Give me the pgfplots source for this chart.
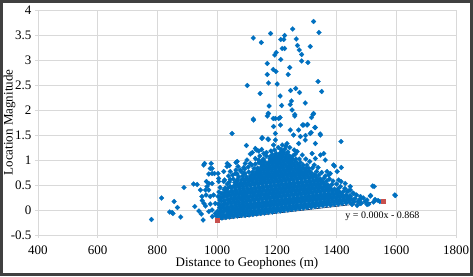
\documentclass[border=0pt]{standalone}
\usepackage{pgfplots}
\pgfplotsset{compat=1.18}
\usepackage{fontspec}
\setmainfont{Liberation Serif}
\definecolor{ptblue}{RGB}{0,112,192}
\definecolor{ptred}{RGB}{200,80,77}
\definecolor{trendc}{RGB}{31,56,100}
\definecolor{gridc}{RGB}{217,217,217}
\definecolor{framec}{RGB}{64,64,64}
\pgfplotsset{ptstyle/.style={only marks, mark=diamond*, mark size=2.5pt, mark options={xscale=1.3, fill=ptblue, draw=ptblue, line width=0.2pt}}}
\begin{document}
\begin{tikzpicture}
\useasboundingbox (0,0) rectangle (473pt,276pt);
\begin{axis}[
  at={(38pt,41pt)}, anchor=south west,
  scale only axis, width=418pt, height=225pt,
  xmin=400, xmax=1800, ymin=-0.5, ymax=4,
  xtick={400,600,...,1800},
  ytick={-0.5,0,0.5,1,1.5,2,2.5,3,3.5,4},
  grid=major,
  major grid style={draw=gridc, line width=0.8pt},
  axis line style={draw=gridc, line width=0.8pt},
  tick style={draw=gridc, line width=0.8pt},
  tick align=outside, major tick length=3pt,
  xtick pos=bottom, ytick pos=left,
  /pgf/number format/assume math mode=true,
  /pgf/number format/1000 sep={},
  tick label style={font=\fontsize{13}{15}\selectfont, text=black},
  xticklabel style={yshift=-4pt},
  label style={font=\fontsize{13}{15}\selectfont},
  xlabel={Distance to Geophones (m)},
  ylabel={Location Magnitude},
  xlabel style={at={(axis description cs:0.5,0)}, anchor=base, yshift=-31.7pt},
  ylabel style={at={(axis description cs:-0.0682,0.5)}, anchor=center},
  clip=false,
]
\addplot[ptstyle] coordinates {
(780,-0.19)(814,0.24)(856,0.17)(841,-0.04)(849,-0.05)(852,-0.07)(867,0.05)(878,-0.14)(889,0.45)(921,0.52)(933,0.51)(925,0.07)(939,-0.02)(947,-0.08)(950,0.19)(956,0.13)(953,-0.2)(955,0.9)(958,0.93)(980,0.93)(977,0.83)(983,0.83)(972,0.72)(991,0.73)(964,0.57)(972,0.53)(983,0.53)(966,0.47)(944,0.4)(961,0.4)(972,0.4)(949,0.27)(963,0.3)(977,0.27)(988,0.3)(961,0.08)(977,0.12)(994,0.13)(972,-0.03)(983,0.0)(994,-0.07)(984,-0.13)(997,-0.12)
(1034,0.93)(1041,0.89)(1050,1.53)(1098,1.29)(1063,0.95)(1070,0.87)(1089,0.85)(1131,1.2)(1139,1.18)(1149,1.21)(1165,1.15)(1111,1.12)(1118,1.15)(1151,1.45)(1170,1.42)(1189,1.3)(1195,1.53)(1100,1.0)(1111,0.93)(1128,1.03)(1150,0.97)(1022,0.77)(1044,0.77)(1067,0.72)(1089,0.73)(1003,0.73)(1005,0.63)(983,0.73)(1005,0.57)(1022,0.57)(1044,0.61)(1067,0.6)
(1172,1.93)(1206,1.83)(1251,2.0)(1122,1.8)(1189,1.67)(1212,1.7)(1245,1.6)(1256,1.5)(1150,1.43)(1128,1.23)(1172,1.41)(1195,1.4)(1234,1.33)(1273,1.33)(1268,1.17)(1067,0.97)(1094,0.93)(1033,0.87)(1061,0.73)(1078,0.8)(1156,1.13)(1178,1.07)(1139,1.0)
(1597,0.29)(1521,0.48)(1526,0.47)(1513,0.28)(1529,0.21)(1545,0.17)(1496,0.17)(1508,0.12)(1480,0.13)(1469,0.09)(1452,0.11)(1393,0.88)(1416,0.85)(1374,0.7)(1446,0.47)(1429,0.53)(1415,0.57)(1435,0.37)(1457,0.33)(1480,0.27)(1422,0.27)(1441,0.23)(1318,1.13)(1329,1.03)(1346,1.1)
(1321,1.91)(1316,1.85)(1415,1.37)(1290,1.7)(1301,1.7)(1327,1.65)(1273,1.6)(1312,1.53)(1346,1.5)(1279,1.47)(1295,1.4)(1329,1.33)(1357,1.13)(1362,1.0)(1390,0.9)(1368,0.77)(1379,0.73)(1402,0.77)(1407,0.6)(1446,0.4)(1446,0.27)(1480,0.23)(1502,0.2)(1595,0.3)(1514,0.29)(1524,0.16)(1539,0.19)(1502,0.11)(1483,0.14)
(1323,3.77)(1253,3.62)(1341,3.55)(1121,3.44)(1179,3.53)(1148,3.35)(1226,3.49)(1223,3.41)(1213,3.41)(1265,3.42)(1269,3.29)(1275,3.2)(1283,3.11)(1312,3.27)(1218,3.23)(1226,3.23)(1198,3.15)(1193,3.1)(1213,3.01)(1283,2.98)(1304,2.95)(1168,2.93)(1243,2.85)(1188,2.81)(1197,2.77)(1168,2.71)(1238,2.71)(1338,2.57)(1172,2.54)(1201,2.52)(1101,2.49)(1350,2.37)(1263,2.43)(1246,2.39)(1276,2.35)(1144,2.33)(1211,2.28)(1249,2.18)(1245,2.11)(1295,2.14)(1216,2.09)(1174,2.08)(1171,1.93)(1168,1.88)(1260,1.88)(1323,1.93)(1121,1.82)(1188,1.83)(1195,1.83)(1211,1.85)(1260,1.91)(1329,1.65)(1345,1.52)(1315,1.55)(1296,1.49)(1286,1.70)(1303,1.71)
(1010,0.45)(1025,0.6)(1038,0.68)(1052,0.7)(1063,0.8)(1080,0.77)(1092,0.82)(1104,0.86)(1116,0.9)(1128,0.92)(1140,0.95)(1143,1.08)(1155,1.02)(1165,1.08)(1180,1.18)(1192,1.2)(1205,1.25)(1218,1.3)(1230,1.28)(1243,1.25)(1258,1.2)(1262,1.12)(1285,1.1)(1297,1.02)(1310,0.97)(1325,0.9)(1338,0.85)(1350,0.75)(1362,0.68)(1376,0.62)(1388,0.58)(1400,0.52)(1413,0.47)(1428,0.43)(1440,0.38)(1455,0.34)(1467,0.3)(1478,0.2)(1490,0.24)
};
\addplot[ptstyle] coordinates {
(1003,-0.17)(1007,-0.09)(1002,-0.02)(1008,0.05)(1004,0.12)(1009,0.2)(1003,0.27)(1006,0.36)
(1016,-0.16)(1020,-0.1)(1015,-0.03)(1021,0.04)(1017,0.1)(1022,0.18)(1016,0.25)(1019,0.33)(1023,0.41)
(1029,-0.15)(1034,-0.08)(1030,0.0)(1033,0.06)(1028,0.13)(1035,0.21)(1030,0.28)(1032,0.37)(1027,0.44)(1034,0.52)
(1042,-0.14)(1046,-0.06)(1041,0.01)(1047,0.08)(1043,0.16)(1045,0.23)(1040,0.31)(1048,0.38)(1044,0.47)(1041,0.56)
(1055,-0.13)(1059,-0.05)(1054,0.02)(1060,0.1)(1056,0.17)(1058,0.25)(1053,0.33)(1061,0.4)(1056,0.48)(1059,0.55)(1054,0.62)
(1068,-0.12)(1072,-0.04)(1067,0.03)(1073,0.11)(1069,0.18)(1071,0.26)(1066,0.34)(1074,0.42)(1070,0.5)(1067,0.58)(1072,0.66)
(1081,-0.11)(1085,-0.03)(1080,0.05)(1086,0.12)(1082,0.2)(1084,0.28)(1079,0.35)(1087,0.43)(1083,0.51)(1081,0.6)(1085,0.68)
(1094,-0.11)(1098,-0.02)(1093,0.06)(1099,0.13)(1095,0.21)(1097,0.29)(1092,0.37)(1100,0.44)(1096,0.52)(1094,0.6)(1098,0.66)(1093,0.73)
(1107,-0.1)(1111,-0.02)(1106,0.05)(1112,0.13)(1108,0.2)(1110,0.28)(1105,0.36)(1113,0.43)(1109,0.51)(1107,0.59)(1111,0.68)(1106,0.76)
(1120,-0.09)(1124,-0.01)(1119,0.07)(1125,0.14)(1121,0.22)(1123,0.3)(1118,0.37)(1126,0.45)(1122,0.53)(1120,0.61)(1124,0.68)(1119,0.76)(1124,0.83)
(1133,-0.08)(1137,0.0)(1132,0.08)(1138,0.15)(1134,0.23)(1136,0.31)(1131,0.38)(1139,0.46)(1135,0.54)(1133,0.62)(1137,0.69)(1132,0.77)(1136,0.84)
(1146,-0.07)(1150,0.01)(1145,0.09)(1151,0.16)(1147,0.24)(1149,0.32)(1144,0.39)(1152,0.47)(1148,0.55)(1146,0.63)(1150,0.7)(1145,0.78)(1149,0.86)(1147,0.92)
(1159,-0.06)(1163,0.02)(1158,0.1)(1164,0.17)(1160,0.25)(1162,0.33)(1157,0.4)(1165,0.48)(1161,0.56)(1159,0.64)(1163,0.71)(1158,0.79)(1162,0.87)(1160,0.96)
(1172,-0.05)(1176,0.03)(1171,0.11)(1177,0.18)(1173,0.26)(1175,0.34)(1170,0.41)(1178,0.49)(1174,0.57)(1172,0.65)(1176,0.72)(1171,0.8)(1175,0.88)(1173,0.95)(1177,1.03)
(1185,-0.04)(1189,0.04)(1184,0.12)(1190,0.19)(1186,0.27)(1188,0.35)(1183,0.42)(1191,0.5)(1187,0.58)(1185,0.66)(1189,0.73)(1184,0.81)(1188,0.89)(1186,0.97)(1190,1.04)(1185,1.11)
(1198,-0.03)(1202,0.05)(1197,0.13)(1203,0.2)(1199,0.28)(1201,0.36)(1196,0.43)(1204,0.51)(1200,0.59)(1198,0.67)(1202,0.74)(1197,0.82)(1201,0.9)(1199,0.98)(1203,1.05)(1198,1.13)
(1211,-0.02)(1215,0.06)(1210,0.14)(1216,0.21)(1212,0.29)(1214,0.37)(1209,0.44)(1217,0.52)(1213,0.6)(1211,0.68)(1215,0.75)(1210,0.83)(1214,0.91)(1212,0.99)(1216,1.06)(1211,1.14)(1214,1.21)
(1224,-0.01)(1228,0.07)(1223,0.15)(1229,0.22)(1225,0.3)(1227,0.38)(1222,0.45)(1230,0.53)(1226,0.61)(1224,0.69)(1228,0.76)(1223,0.84)(1227,0.92)(1225,1.0)(1229,1.07)(1224,1.15)(1227,1.22)
(1237,0.0)(1241,0.08)(1236,0.16)(1242,0.23)(1238,0.31)(1240,0.39)(1235,0.46)(1243,0.54)(1239,0.62)(1237,0.7)(1241,0.77)(1236,0.85)(1240,0.93)(1238,1.01)(1242,1.08)(1237,1.16)
(1250,0.01)(1254,0.09)(1249,0.17)(1255,0.24)(1251,0.32)(1253,0.4)(1248,0.47)(1256,0.55)(1252,0.63)(1250,0.71)(1254,0.78)(1249,0.86)(1253,0.94)(1251,1.02)(1255,1.09)
(1263,0.02)(1267,0.1)(1262,0.18)(1268,0.25)(1264,0.33)(1266,0.41)(1261,0.48)(1269,0.56)(1265,0.64)(1263,0.72)(1267,0.79)(1262,0.87)(1266,0.95)(1264,1.02)
(1276,0.03)(1280,0.11)(1275,0.19)(1281,0.26)(1277,0.34)(1279,0.42)(1274,0.49)(1282,0.57)(1278,0.65)(1276,0.73)(1280,0.8)(1275,0.88)(1279,0.95)(1275,1.02)
(1289,0.04)(1293,0.12)(1288,0.2)(1294,0.27)(1290,0.35)(1292,0.43)(1287,0.5)(1295,0.58)(1291,0.66)(1289,0.74)(1293,0.82)(1288,0.9)
(1302,0.05)(1306,0.13)(1301,0.21)(1307,0.28)(1303,0.36)(1305,0.44)(1300,0.51)(1308,0.59)(1304,0.67)(1302,0.75)(1307,0.83)(1301,0.9)
(1315,0.06)(1319,0.14)(1314,0.22)(1320,0.29)(1316,0.37)(1318,0.45)(1313,0.52)(1321,0.6)(1317,0.67)(1314,0.75)(1319,0.84)
(1328,0.07)(1332,0.15)(1327,0.23)(1333,0.3)(1329,0.38)(1331,0.46)(1326,0.53)(1334,0.6)(1328,0.69)(1333,0.77)
(1341,0.08)(1345,0.16)(1340,0.24)(1346,0.31)(1342,0.39)(1344,0.47)(1339,0.53)(1345,0.62)(1341,0.7)
(1354,0.09)(1358,0.17)(1353,0.25)(1359,0.32)(1355,0.4)(1357,0.47)(1354,0.56)(1358,0.64)
(1367,0.1)(1371,0.18)(1366,0.26)(1372,0.33)(1368,0.41)(1371,0.5)(1367,0.58)
(1380,0.1)(1384,0.19)(1379,0.27)(1385,0.34)(1380,0.43)(1384,0.51)
(1393,0.11)(1397,0.19)(1392,0.27)(1398,0.34)(1393,0.42)
(1406,0.12)(1410,0.2)(1405,0.28)(1410,0.36)(1406,0.43)
(1419,0.13)(1423,0.21)(1418,0.29)(1423,0.37)
(1432,0.14)(1436,0.22)(1432,0.3)
(1445,0.15)(1449,0.22)(1445,0.29)
(1458,0.16)(1462,0.23)(1471,0.17)
};
\addplot[ptstyle] coordinates {
(1013,-0.13)(1009,-0.05)(1013,0.03)(1009,0.1)(1013,0.18)(1009,0.26)(1013,0.33)
(1026,-0.12)(1022,-0.04)(1026,0.03)(1022,0.11)(1026,0.19)(1022,0.27)(1026,0.34)
(1039,-0.11)(1035,-0.03)(1039,0.04)(1035,0.12)(1039,0.2)(1035,0.28)(1039,0.35)(1035,0.43)
(1052,-0.1)(1048,-0.02)(1052,0.05)(1048,0.13)(1052,0.21)(1048,0.29)(1052,0.36)(1048,0.44)
(1065,-0.09)(1061,-0.01)(1065,0.06)(1061,0.14)(1065,0.22)(1061,0.3)(1065,0.37)(1061,0.45)(1065,0.52)
(1078,-0.08)(1074,0.0)(1078,0.07)(1074,0.15)(1078,0.23)(1074,0.31)(1078,0.38)(1074,0.46)(1078,0.54)
(1091,-0.07)(1087,0.01)(1091,0.08)(1087,0.16)(1091,0.24)(1087,0.32)(1091,0.39)(1087,0.47)(1091,0.55)(1087,0.62)
(1104,-0.07)(1100,0.02)(1104,0.09)(1100,0.17)(1104,0.25)(1100,0.33)(1104,0.4)(1100,0.48)(1104,0.56)(1100,0.63)
(1117,-0.06)(1113,0.03)(1117,0.1)(1113,0.18)(1117,0.26)(1113,0.34)(1117,0.41)(1113,0.49)(1117,0.57)(1113,0.64)(1117,0.71)
(1130,-0.05)(1126,0.04)(1130,0.11)(1126,0.19)(1130,0.27)(1126,0.35)(1130,0.42)(1126,0.5)(1130,0.58)(1126,0.65)(1130,0.73)
(1143,-0.04)(1139,0.05)(1143,0.12)(1139,0.2)(1143,0.28)(1139,0.36)(1143,0.43)(1139,0.51)(1143,0.59)(1139,0.66)(1143,0.74)(1139,0.81)
(1156,-0.03)(1152,0.06)(1156,0.13)(1152,0.21)(1156,0.29)(1152,0.37)(1156,0.44)(1152,0.52)(1156,0.6)(1152,0.67)(1156,0.75)(1152,0.83)(1156,0.9)
(1169,-0.02)(1165,0.07)(1169,0.14)(1165,0.22)(1169,0.3)(1165,0.38)(1169,0.45)(1165,0.53)(1169,0.61)(1165,0.68)(1169,0.76)(1165,0.84)(1169,0.92)
(1182,-0.01)(1178,0.08)(1182,0.15)(1178,0.23)(1182,0.31)(1178,0.39)(1182,0.46)(1178,0.54)(1182,0.62)(1178,0.69)(1182,0.77)(1178,0.85)(1182,0.93)(1178,1.0)
(1195,0.0)(1191,0.09)(1195,0.16)(1191,0.24)(1195,0.32)(1191,0.4)(1195,0.47)(1191,0.55)(1195,0.63)(1191,0.7)(1195,0.78)(1191,0.86)(1195,0.94)(1191,1.02)(1195,1.08)
(1208,0.01)(1204,0.1)(1208,0.17)(1204,0.25)(1208,0.33)(1204,0.41)(1208,0.48)(1204,0.56)(1208,0.64)(1204,0.71)(1208,0.79)(1204,0.87)(1208,0.95)(1204,1.03)(1208,1.1)
(1221,0.02)(1217,0.11)(1221,0.18)(1217,0.26)(1221,0.34)(1217,0.42)(1221,0.49)(1217,0.57)(1221,0.65)(1217,0.72)(1221,0.8)(1217,0.88)(1221,0.96)(1217,1.04)(1221,1.11)(1217,1.18)
(1234,0.03)(1230,0.12)(1234,0.19)(1230,0.27)(1234,0.35)(1230,0.43)(1234,0.5)(1230,0.58)(1234,0.66)(1230,0.73)(1234,0.81)(1230,0.89)(1234,0.97)(1230,1.05)(1234,1.12)
(1247,0.04)(1243,0.13)(1247,0.2)(1243,0.28)(1247,0.36)(1243,0.44)(1247,0.51)(1243,0.59)(1247,0.67)(1243,0.74)(1247,0.82)(1243,0.9)(1247,0.98)(1243,1.06)
(1260,0.05)(1256,0.14)(1260,0.21)(1256,0.29)(1260,0.37)(1256,0.45)(1260,0.52)(1256,0.6)(1260,0.68)(1256,0.75)(1260,0.83)(1256,0.91)(1260,0.99)
(1273,0.06)(1269,0.15)(1273,0.22)(1269,0.3)(1273,0.38)(1269,0.46)(1273,0.53)(1269,0.61)(1273,0.69)(1269,0.76)(1273,0.84)(1269,0.92)
(1286,0.07)(1282,0.16)(1286,0.23)(1282,0.31)(1286,0.39)(1282,0.47)(1286,0.54)(1282,0.62)(1286,0.7)(1282,0.77)(1286,0.85)
(1299,0.08)(1295,0.17)(1299,0.24)(1295,0.32)(1299,0.4)(1295,0.48)(1299,0.55)(1295,0.63)(1299,0.71)(1295,0.78)(1299,0.84)
(1312,0.09)(1308,0.18)(1312,0.25)(1308,0.33)(1312,0.41)(1308,0.49)(1312,0.56)(1308,0.64)(1312,0.72)(1308,0.78)
(1325,0.1)(1321,0.19)(1325,0.26)(1321,0.34)(1325,0.42)(1321,0.5)(1325,0.57)(1321,0.65)(1325,0.71)
(1338,0.11)(1334,0.2)(1338,0.27)(1334,0.35)(1338,0.43)(1334,0.51)(1338,0.58)(1334,0.64)
(1351,0.12)(1347,0.21)(1351,0.28)(1347,0.36)(1351,0.44)(1347,0.52)(1351,0.58)
(1364,0.13)(1360,0.22)(1364,0.29)(1360,0.37)(1364,0.45)(1360,0.52)
(1377,0.14)(1373,0.22)(1377,0.3)(1373,0.38)(1377,0.45)
(1390,0.15)(1386,0.23)(1390,0.31)(1386,0.38)
(1403,0.16)(1399,0.24)(1403,0.32)(1399,0.38)
(1416,0.17)(1412,0.25)(1416,0.32)
(1429,0.18)(1425,0.26)
(1442,0.19)(1438,0.25)
(1455,0.2)
};
\addplot[color=trendc, line width=0.7pt, mark=square*, mark size=2pt, mark options={fill=ptred, draw=ptred}] coordinates {(1000,-0.2)(1555,0.18)};
\node[anchor=west, font=\fontsize{10}{12}\selectfont, inner sep=0pt] at (axis cs:1429,-0.134) {y = 0.000x - 0.868};
\end{axis}
\draw[line width=3pt, color=framec] (1.5pt,1.5pt) rectangle (471.5pt,274.5pt);
\end{tikzpicture}
\end{document}
